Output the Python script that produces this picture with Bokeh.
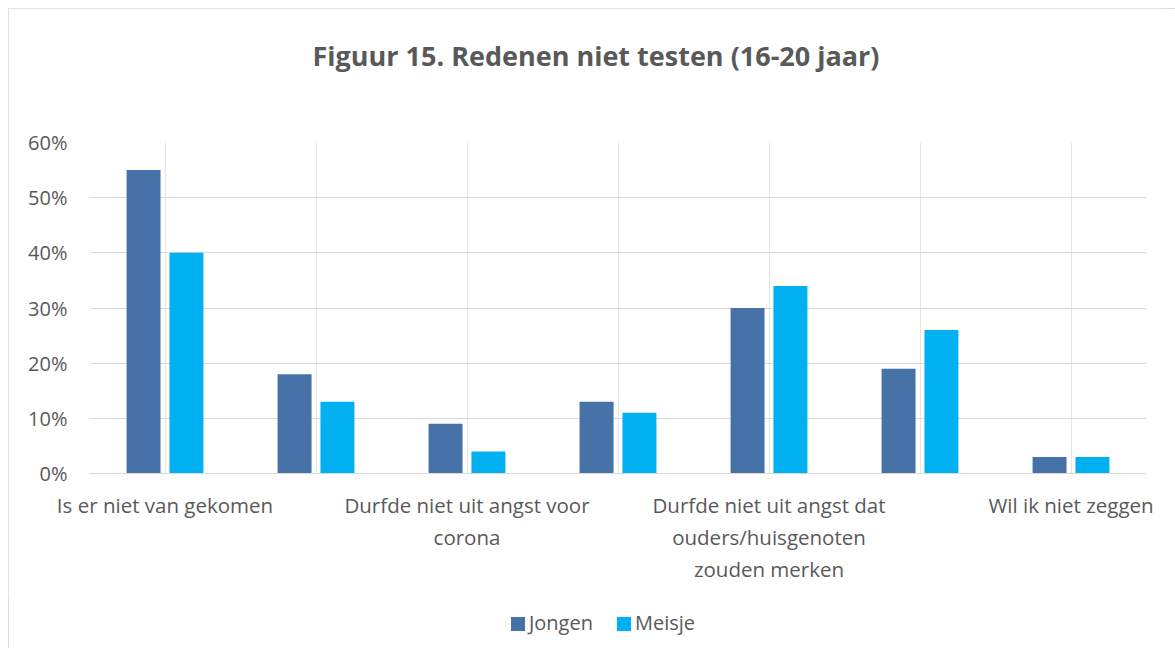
from bokeh.plotting import figure
from bokeh.models import ColumnDataSource, FixedTicker, LinearAxis, Range1d, Title, Div
from bokeh.layouts import column
from bokeh.transform import dodge
from bokeh.embed import file_html
from bokeh.resources import INLINE
import numpy as np

# Data (values in %)
categories = [
    "Is er niet van gekomen",
    "Categorie 2",
    "Durfde niet uit angst voor\ncorona",
    "Categorie 4",
    "Durfde niet uit angst dat\nouders/huisgenoten\nzouden merken",
    "Categorie 6",
    "Wil ik niet zeggen",
]
shown_labels = [True, False, True, False, True, False, True]
jongen = [55, 18, 9, 13, 30, 19, 3]
meisje = [40, 13, 4, 11, 34, 26, 3]
y_ticks = [0, 10, 20, 30, 40, 50, 60]
title_text = "Figuur 15. Redenen niet testen (16-20 jaar)"
series_names = ["Jongen", "Meisje"]

TXT = "#595959"
FONT = "Open Sans"
C1 = "#4672a8"
C2 = "#00b0f0"
colors = [C1, C2]

idx = np.arange(1, len(categories) + 1)
src = ColumnDataSource(dict(x=idx, jongen=jongen, meisje=meisje))

p = figure(frame_width=1057, frame_height=331, output_backend="svg", toolbar_location=None,
           x_range=Range1d(0.5, len(categories) + 0.5), y_range=Range1d(0, 60),
           x_axis_location=None,
           min_border_left=81, min_border_right=21, min_border_top=134, min_border_bottom=125)
p.outline_line_color = None

# spacer between frame and title
p.add_layout(Title(text=" ", standoff=60, text_font_size="1px"), "above")
t = Title(text=title_text, align="left", text_font=FONT, text_font_size="27px",
          text_font_style="bold", text_color=TXT, standoff=10, offset=223,
          vertical_align="middle")
p.add_layout(t, "above")

p.vbar(x=dodge("x", -0.142), top="jongen", width=0.225, source=src,
       fill_color=C1, line_color=None)
p.vbar(x=dodge("x", 0.142), top="meisje", width=0.225, source=src,
       fill_color=C2, line_color=None)

# category axis: one axis per text line of the (wrapped) category labels
split = [c.split("\n") for c in categories]
n_lines = max(len(s) for i, s in enumerate(split) if shown_labels[i])
for line_no in range(n_lines):
    ticks = [int(idx[i]) for i in range(len(categories))
             if shown_labels[i] and len(split[i]) > line_no]
    labels = {int(idx[i]): split[i][line_no] for i in range(len(categories))
              if shown_labels[i] and len(split[i]) > line_no}
    ax = LinearAxis(ticker=FixedTicker(ticks=ticks), major_label_overrides=labels,
                    major_tick_line_color=None, minor_tick_line_color=None,
                    major_tick_out=0, major_tick_in=0, minor_tick_out=0, minor_tick_in=0,
                    axis_line_color="#d9d9d9" if line_no == 0 else None,
                    major_label_text_font=FONT, major_label_text_font_size="20.5px",
                    major_label_text_color=TXT,
                    major_label_standoff=17 if line_no == 0 else 1)
    p.add_layout(ax, "below")

p.yaxis.ticker = FixedTicker(ticks=y_ticks)
p.yaxis.major_label_overrides = {v: f"{v}%" for v in y_ticks}
p.yaxis.major_tick_line_color = None
p.yaxis.minor_tick_line_color = None
p.yaxis.axis_line_color = None
p.yaxis.major_label_text_font = FONT
p.yaxis.major_label_text_font_size = "20px"
p.yaxis.major_label_text_color = TXT
p.yaxis.major_label_standoff = 16

p.ygrid.grid_line_color = "#d9d9d9"
p.ygrid.ticker = FixedTicker(ticks=y_ticks)

# legend (HTML, below the chart)
items_html = "".join(
    f'<span style="display:inline-block;margin:0 12px;white-space:nowrap;">'
    f'<span style="display:inline-block;width:14px;height:14px;background:{c};'
    f'margin-right:4px;vertical-align:-1px;"></span>{name}</span>'
    for name, c in zip(series_names, colors))
legend_html = (f'<div style="width:1159px;text-align:center;padding-left:21px;padding-top:6px;'
               f'box-sizing:border-box;font-family:\'Open Sans\';font-size:20px;color:{TXT};">'
               f'{items_html}</div>')
legend_div = Div(text=legend_html, width=1159, height=42)

layout = column(p, legend_div, spacing=0,
                styles={"outline": "1px solid #d9d9d9", "outline-offset": "-1px",
                        "margin-left": "8px", "margin-top": "8px"})

open("out.html", "w").write(file_html(layout, INLINE))
